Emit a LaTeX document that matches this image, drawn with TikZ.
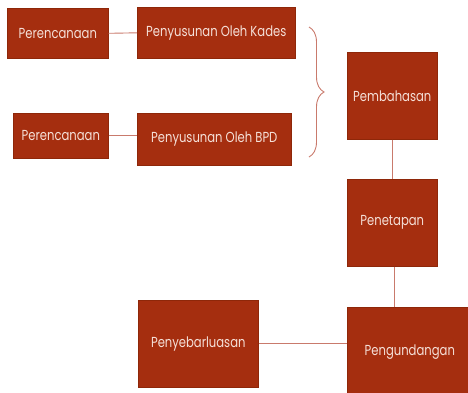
\documentclass[tikz,border=0pt]{standalone}
\usepackage{fontspec}
\setmainfont{Poppins}[FakeStretch=0.8]
\usetikzlibrary{decorations.pathreplacing}
\definecolor{boxfill}{HTML}{A52E0F}
\definecolor{boxline}{HTML}{8E2709}
\definecolor{conn}{HTML}{C97A6C}
\definecolor{txt}{HTML}{F5E0D8}
\begin{document}
\begin{tikzpicture}[x=1pt,y=-1pt,
  box/.style={draw=boxline,line width=0.6pt,fill=boxfill,text=txt,font=\fontsize{14.5}{16}\selectfont,inner sep=0pt,anchor=north west},
  link/.style={draw=conn,line width=0.9pt}]
\useasboundingbox (0,0) rectangle (468,392);
\node[box,minimum width=101pt,minimum height=50pt] (p1) at (7,8) {Perencanaan};
\node[box,minimum width=158pt,minimum height=51pt] (k) at (137,7) {Penyusunan Oleh Kades};
\node[box,minimum width=95pt,minimum height=45pt] (p2) at (13,113) {Perencanaan};
\node[box,minimum width=154pt,minimum height=52pt] (b) at (137,113) {Penyusunan Oleh BPD};
\node[box,minimum width=90pt,minimum height=87pt] (pb) at (347,52) {Pembahasan};
\node[box,minimum width=90pt,minimum height=87pt] (pt) at (347,179) {Penetapan};
\node[box,minimum width=120pt,minimum height=87pt] (ps) at (138,300) {Penyebarluasan};
\node[box,minimum width=125pt,minimum height=90pt] (pg) at (347,307) {Pengundangan};
\coordinate (bt) at (309,27);
\coordinate (bb) at (309,157);
\draw[link] (p1.east) -- (k.west);
\draw[link] (p2.east) -- (b.west |- p2.east);
\draw[link] (pb.south) -- (pt.north);
\draw[link] ([xshift=2pt]pt.south) -- ([xshift=2pt]pt.south |- pg.north);
\draw[link] (ps.east |- 0,343) -- (pg.west |- 0,343);
\draw[link,decorate,decoration={brace,amplitude=15pt,aspect=0.5}] (bt) -- (bb);
\end{tikzpicture}
\end{document}
